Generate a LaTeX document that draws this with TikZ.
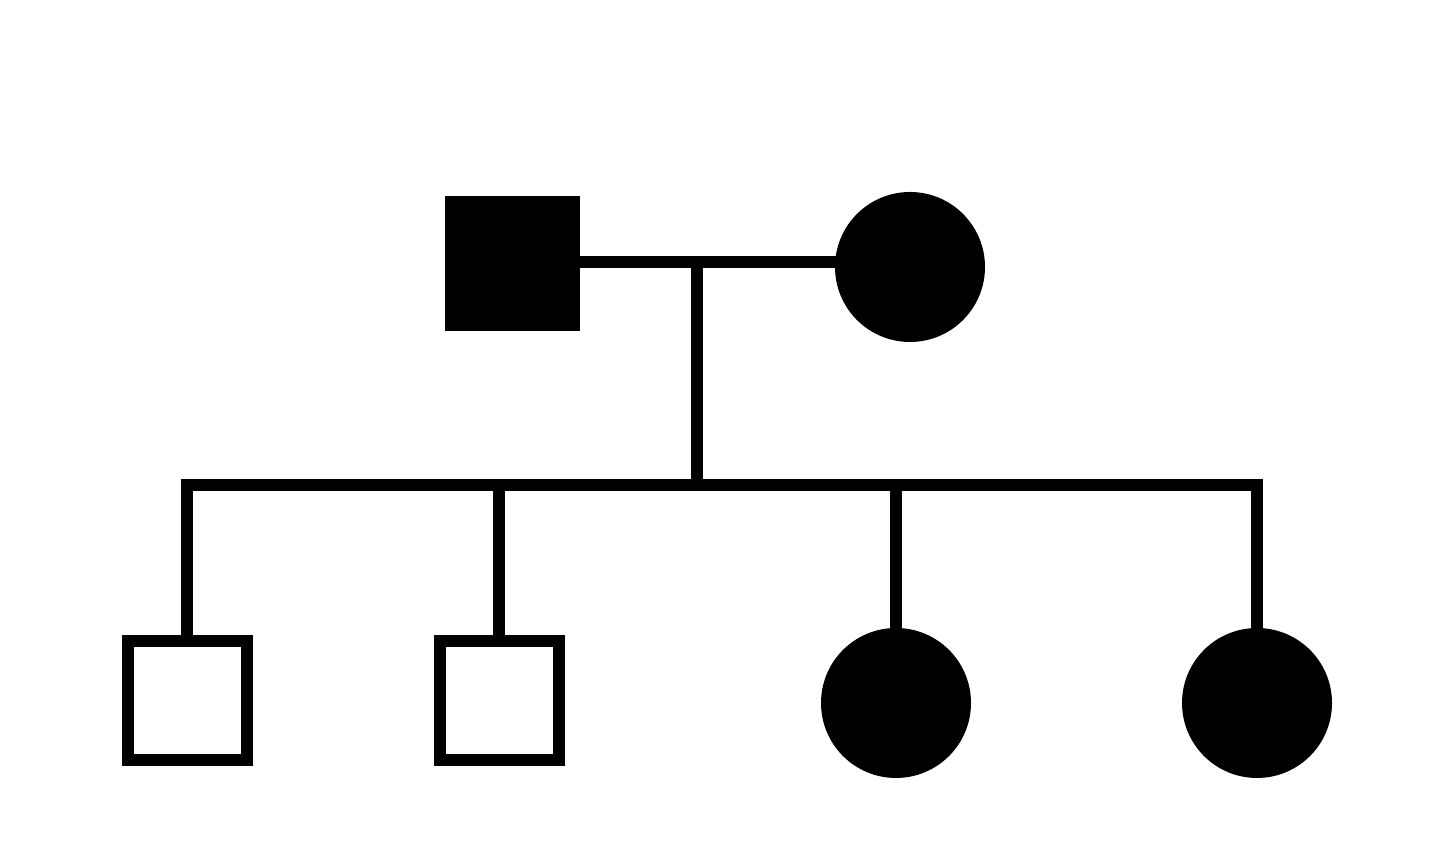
\documentclass[tikz,border=0pt]{standalone}
\usetikzlibrary{backgrounds}
\begin{document}
\begin{tikzpicture}[line width=0.12cm]
	\tikzstyle{affmale}=[rectangle,fill=black,minimum size=1.35cm,inner sep=0pt,outer sep=0pt]
	\tikzstyle{afffemale}=[circle,fill=black,minimum size=1.5cm,inner sep=0pt,outer sep=0pt]
	\tikzstyle{male}=[rectangle,draw=black,fill=white,minimum size=1.19cm,inner sep=0pt]
	\tikzstyle{link}=[line width=0.12cm]
	\useasboundingbox (0,0) rectangle (14.4,8.67);
	\node[affmale] (P1) at (5.12, 6.03) {};
	\node[afffemale] (P2) at (9.10, 6.00) {};
	\coordinate (M) at (6.97, 6.05);
	\coordinate (S) at (6.97, 3.82);

	\node[male] (C1) at (1.87, 1.66) {};
	\node[male] (C2) at (4.99, 1.66) {};
	\node[afffemale] (C3) at (8.96, 1.64) {};
	\node[afffemale] (C4) at (12.57, 1.64) {};

	\begin{scope}[on background layer]
	\draw[link] (P1.center |- M) -- (P2.center |- M);
	\draw[link] (M) -- (S);

	\draw[link] (C1.center) |- (S) -| (C4.center);
	\draw[link] (C2.center) -- (C2.center |- S);
	\draw[link] (C3.center) -- (C3.center |- S);
	\end{scope}
\end{tikzpicture}
\end{document}
